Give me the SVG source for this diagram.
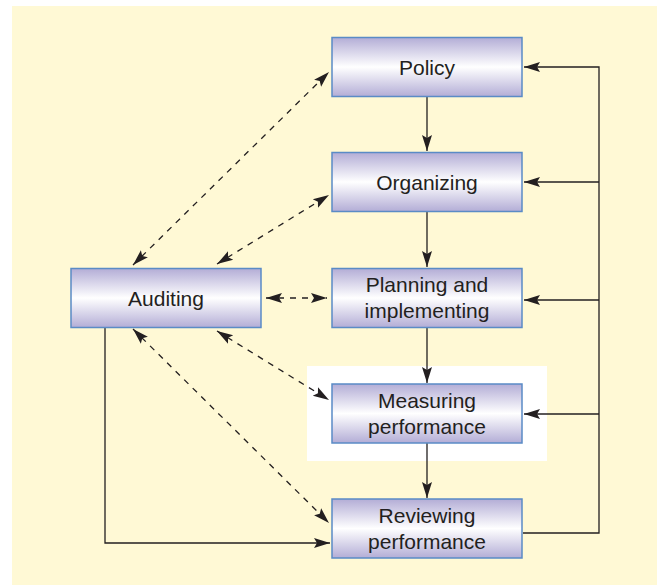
<svg xmlns="http://www.w3.org/2000/svg" width="657" height="585" viewBox="0 0 657 585">
<style>
.box{fill:url(#g);stroke:#5A8BC6;stroke-width:1.5}
.lbl{font-family:"Liberation Sans",Arial,sans-serif;font-size:21px;fill:#231F20;text-anchor:middle}
.ln{fill:none;stroke:#231F20;stroke-width:1.3}
.ds{fill:none;stroke:#231F20;stroke-width:1.3;stroke-dasharray:6 6}
</style>
<defs>
<linearGradient id="g" x1="0" y1="0" x2="0" y2="1">
<stop offset="0" stop-color="#B3ADD6"/>
<stop offset="0.5" stop-color="#FFFFFF"/>
<stop offset="1" stop-color="#B3ADD6"/>
</linearGradient>
<marker id="a" markerUnits="userSpaceOnUse" markerWidth="16" markerHeight="12" viewBox="0 0 16 12" refX="16" refY="6" orient="auto-start-reverse">
<path d="M0,1 L16,6 L0,11 L3,6 Z" fill="#231F20"/>
</marker>
</defs>
<rect x="0" y="0" width="657" height="585" fill="#FFFFFF"/>
<rect x="12" y="6" width="645" height="579" fill="#FFF9D5"/>
<rect x="307" y="366" width="240" height="95" fill="#FFFFFF"/>
<g id="connectors">
<path class="ln" d="M427,97 V151" marker-end="url(#a)"/>
<path class="ln" d="M427,212 V267" marker-end="url(#a)"/>
<path class="ln" d="M427,327 V383" marker-end="url(#a)"/>
<path class="ln" d="M427,443 V498" marker-end="url(#a)"/>
<path class="ln" d="M523,533 H599 V67 H524" marker-end="url(#a)"/>
<path class="ln" d="M599,182 H524" marker-end="url(#a)"/>
<path class="ln" d="M599,300 H524" marker-end="url(#a)"/>
<path class="ln" d="M599,414 H524" marker-end="url(#a)"/>
<path class="ln" d="M105,328 V543 H330" marker-end="url(#a)"/>
<path class="ds" d="M133,265 L329,72" marker-start="url(#a)" marker-end="url(#a)"/>
<path class="ds" d="M217,264 L329,195" marker-start="url(#a)" marker-end="url(#a)"/>
<path class="ds" d="M266,298 L327,298" marker-start="url(#a)" marker-end="url(#a)"/>
<path class="ds" d="M217,331 L329,400" marker-start="url(#a)" marker-end="url(#a)"/>
<path class="ds" d="M133,329 L329,523" marker-start="url(#a)" marker-end="url(#a)"/>
</g>
<g id="policy">
<rect class="box" x="332" y="37.5" width="190" height="59"/>
<text class="lbl" x="427" y="74.5">Policy</text>
</g>
<g id="organizing">
<rect class="box" x="332" y="152.5" width="190" height="59"/>
<text class="lbl" x="427" y="189.5">Organizing</text>
</g>
<g id="planning">
<rect class="box" x="332" y="268.5" width="190" height="59"/>
<text class="lbl" x="427" y="292">Planning and</text>
<text class="lbl" x="427" y="318">implementing</text>
</g>
<g id="measuring">
<rect class="box" x="332" y="384" width="190" height="59"/>
<text class="lbl" x="427" y="408">Measuring</text>
<text class="lbl" x="427" y="434">performance</text>
</g>
<g id="reviewing">
<rect class="box" x="332" y="499" width="190" height="59"/>
<text class="lbl" x="427" y="522.5">Reviewing</text>
<text class="lbl" x="427" y="548.5">performance</text>
</g>
<g id="auditing">
<rect class="box" x="71" y="268.5" width="190" height="59"/>
<text class="lbl" x="166" y="305.5">Auditing</text>
</g>
</svg>
